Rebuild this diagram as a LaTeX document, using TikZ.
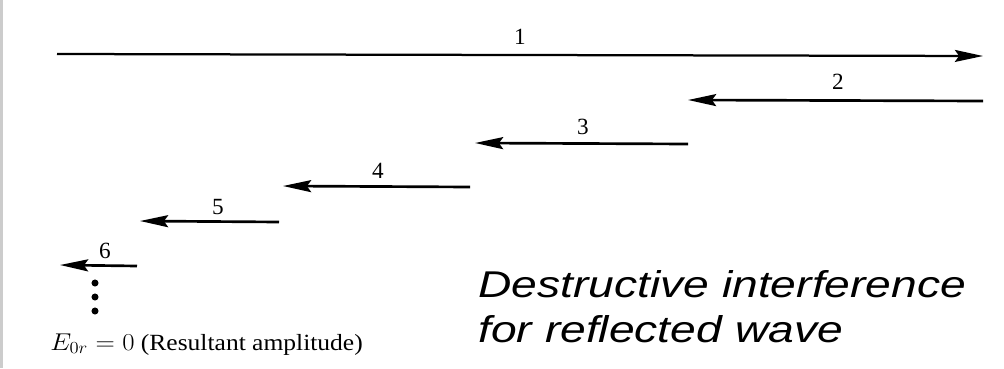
\documentclass[tikz,border=0pt]{standalone}
\usepackage{fontspec}
\setmainfont{Liberation Serif}
\newfontfamily\captfont{Liberation Sans}
\usepackage{graphicx}
\usepackage{tikz}
\usetikzlibrary{positioning, arrows.meta, calc}

\begin{document}
\begin{tikzpicture}[x=0.025cm, y=-0.025cm,
  font=\fontsize{16.5}{20}\selectfont, >={Stealth[length=20pt, width=8.5pt, inset=3pt]},
  wave/.style={->, line width=1.9pt},
  num/.style={inner sep=0pt},
  dotmark/.style={fill, circle, inner sep=0pt, minimum size=5pt},
  capt/.style={anchor=base west, inner sep=0pt, font=\captfont\itshape\fontsize{26.5}{32}\selectfont}]
\useasboundingbox (0,0) rectangle (1004,368);
\fill[black!20] (0,0) rectangle (3,368);
% incident and reflected parts
\coordinate (s1) at (57,54);   \coordinate (e1) at (983,56);
\coordinate (s2) at (983,101); \coordinate (e2) at (688,100);
\coordinate (s3) at (688,144); \coordinate (e3) at (475,143);
\coordinate (s4) at (470,187); \coordinate (e4) at (283,186);
\coordinate (s5) at (279,222); \coordinate (e5) at (140,221);
\coordinate (s6) at (137,266); \coordinate (e6) at (60,265);
\draw[wave, line width=1.6pt] (s1) -- (e1);
\foreach \i in {2,...,6} \draw[wave] (s\i) -- (e\i);
\node[num] (n1) at (520,37)  {1};
\node[num] (n2) at (838,82)  {2};
\node[num] (n3) at (583,127) {3};
\node[num] (n4) at (378,171) {4};
\node[num] (n5) at (218,207) {5};
\node[num] (n6) at (105,251) {6};
\node[dotmark] (d1) at (95,283) {};
\node[dotmark] (d2) at (95,297) {};
\node[dotmark] (d3) at (95,311) {};
\node[anchor=base west, inner sep=0pt] (res) at (50,350) {\scalebox{1.1}[1]{$E_{0r}=0$ (Resultant amplitude)}};
\node[capt] (dest1) at (478,297) {\scalebox{1.24}[1]{Destructive interference}};
\node[capt] (dest2) at (478,342) {\scalebox{1.24}[1]{for reflected wave}};
\end{tikzpicture}
\end{document}
